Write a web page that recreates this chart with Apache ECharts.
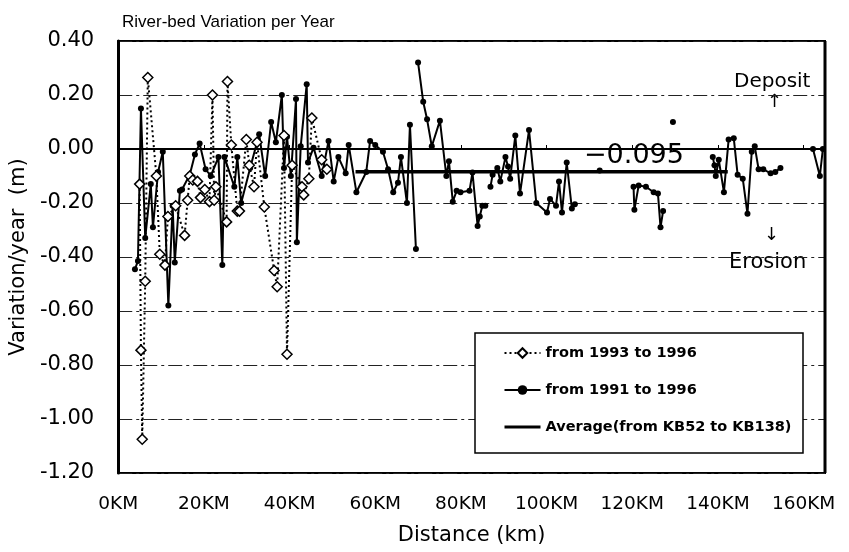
<!DOCTYPE html>
<html style="height: 100%">
<head>
<meta charset="utf-8">
<title>River-bed Variation per Year</title>
<script src="https://cdn.jsdelivr.net/npm/echarts/dist/echarts.min.js"></script>
</head>
<body style="height: 100%; margin: 0; background: #fff">
<div id="container" style="width: 849px; height: 552px"></div>
<script type="text/javascript">

// distance (km), variation per year (m)
let series93 = [
    [5.0, -0.13], [5.3, -0.745], [5.6, -1.075], [6.3, -0.49], [6.9, 0.265], [8.9, -0.10],
    [9.7, -0.39], [10.9, -0.43], [11.6, -0.25], [13.4, -0.21], [15.5, -0.32], [16.2, -0.19],
    [16.7, -0.10], [17.4, -0.115], [18.5, -0.12], [19.2, -0.18], [20.2, -0.15], [21.3, -0.195],
    [22.0, 0.20], [22.4, -0.19], [22.8, -0.14], [25.3, -0.27], [25.5, 0.25], [26.4, 0.015],
    [27.8, -0.23], [28.3, -0.23], [29.9, 0.035], [30.6, -0.06], [31.7, -0.14], [32.4, 0.025],
    [34.1, -0.215], [36.4, -0.45], [37.1, -0.51], [38.7, 0.05], [39.4, -0.76], [40.6, -0.06],
    [42.9, -0.14], [43.3, -0.17], [44.5, -0.11], [45.2, 0.115], [47.5, -0.04], [48.7, -0.075]
]

// null = break in the line
let series91 = [
    [3.9, -0.445], [4.6, -0.415], [5.3, 0.15], [6.3, -0.33], [7.6, -0.13], [8.1, -0.29],
    [9.3, -0.085], [10.4, -0.01], [11.7, -0.58], [12.7, -0.21], [13.2, -0.42], [14.4, -0.155],
    [14.9, -0.15], [16.7, -0.095], [17.9, -0.02], [19.0, 0.02], [20.4, -0.075], [21.6, -0.10],
    [23.4, -0.03], [24.3, -0.43], [24.8, -0.03], [27.1, -0.14], [27.8, -0.03], [28.7, -0.20],
    [30.8, -0.07], [32.9, 0.055], [34.3, -0.10], [35.7, 0.10], [36.8, 0.025], [38.2, 0.20],
    [38.7, -0.07], [39.4, 0.045], [40.3, -0.10], [41.5, 0.185], [41.7, -0.345], [42.6, 0.01],
    [44.0, 0.24], [44.3, -0.05], [45.6, 0.005], [47.5, -0.10], [49.1, 0.03], [50.3, -0.12],
    [51.4, -0.03], [53.1, -0.09], [53.8, 0.015], [55.6, -0.16], [57.9, -0.085], [58.8, 0.03],
    [60.0, 0.015], [61.8, -0.01], [63.0, -0.075], [64.2, -0.16], [65.3, -0.125], [66.0, -0.03],
    [67.4, -0.20], [68.1, 0.09], [69.5, -0.37], [69.8, null], [70.0, 0.32], [71.2, 0.175],
    [72.1, 0.11], [73.2, 0.01], [75.1, 0.105], [76.6, -0.10], [77.2, -0.045], [78.1, -0.195],
    [79.0, -0.155], [79.9, -0.16], [82.0, -0.155], [82.7, -0.087], [83.9, -0.285], [84.4, -0.25],
    [85.0, -0.21], [85.7, -0.21], [86.3, null], [86.9, -0.14], [87.4, -0.095], [88.5, -0.07],
    [89.2, -0.12], [90.4, -0.03], [91.0, -0.065], [91.5, -0.11], [92.7, 0.05], [93.8, -0.165],
    [95.9, 0.07], [97.6, -0.20], [100.1, -0.235], [100.8, -0.185], [102.2, -0.21], [102.9, -0.12],
    [103.6, -0.235], [104.7, -0.05], [105.9, -0.22], [106.6, -0.205], [109, null], [112.4, -0.08],
    [116, null], [120.3, -0.14], [120.5, -0.225], [121.5, -0.135], [123.2, -0.14], [125.0, -0.16],
    [126.0, -0.165], [126.6, -0.29], [127.2, -0.23], [128.3, null], [129.5, 0.10], [134, null],
    [138.8, -0.03], [139.2, -0.06], [139.5, -0.10], [140.2, -0.04], [141.4, -0.16], [142.5, 0.035],
    [143.7, 0.04], [144.6, -0.095], [145.8, -0.11], [146.9, -0.24], [147.9, -0.01], [148.6, 0.01],
    [149.5, -0.075], [150.6, -0.075], [152.3, -0.09], [153.4, -0.085], [154.6, -0.07], [158, null],
    [162.2, 0.0], [163.8, -0.10], [164.5, 0.0]
]

// average from KB52 to KB138
let avgLine = [[55.4, -0.084], [142.3, -0.084]]

let legendNames = ['from 1993 to 1996', 'from 1991 to 1996', 'Average(from KB52 to KB138)']
let font = 'DejaVu Sans'

let dom = document.getElementById('container')
let chart = echarts.init(dom)

chart.setOption({
    backgroundColor: '#fff',
    animation: false,
    textStyle: {fontFamily: font, color: '#000'},
    title: {
        text: 'River-bed Variation per Year',
        left: 117, top: 9,
        textStyle: {fontFamily: 'Liberation Sans', fontSize: 17, fontWeight: 'normal', color: '#000'}
    },
    grid: {left: 113, right: 24, top: 41, bottom: 79, show: true, borderColor: '#000', borderWidth: 2},
    legend: {
        orient: 'vertical', left: 475, top: 333,
        data: [
            {name: legendNames[0]},
            {name: legendNames[1]},
            {name: legendNames[2], itemStyle: {opacity: 0}, lineStyle: {width: 3}}
        ],
        itemWidth: 36, itemHeight: 12, itemGap: 17,
        padding: [10, 10, 17, 28],
        borderWidth: 0,
        textStyle: {fontFamily: font, fontSize: 14.5, fontWeight: 'bold', color: '#000', lineHeight: 20},
        z: 10
    },
    xAxis: {
        type: 'value', min: 0, max: 165, interval: 20,
        name: 'Distance (km)', nameLocation: 'middle', nameGap: 52,
        nameTextStyle: {fontFamily: font, fontSize: 21, color: '#000'},
        axisLine: {lineStyle: {color: '#000', width: 2}},
        axisTick: {inside: true, length: 4, lineStyle: {color: '#000'}},
        axisLabel: {
            margin: 22, fontFamily: font, fontSize: 18.5, color: '#000',
            formatter: function (v) { return v % 20 === 0 ? v + 'KM' : '' }
        },
        splitLine: {show: false}
    },
    yAxis: {
        type: 'value', min: -1.2, max: 0.4, interval: 0.2,
        name: 'Variation/year  (m)', nameLocation: 'middle', nameGap: 77, nameRotate: 90,
        nameTextStyle: {fontFamily: font, fontSize: 21, color: '#000'},
        axisLine: {lineStyle: {color: '#000', width: 3}},
        axisTick: {show: false},
        axisLabel: {
            margin: 24, fontFamily: font, fontSize: 21, color: '#000',
            formatter: function (v) { return v.toFixed(2) }
        },
        splitLine: {lineStyle: {color: '#222', width: 1, type: [14, 4, 3, 4]}}
    },
    graphic: [
        // legend frame
        {type: 'rect', z: 5, shape: {x: 475, y: 333, width: 328, height: 120},
            style: {fill: '#fff', stroke: '#000', lineWidth: 1.5}},
        // right frame a bit heavier, as in the scan
        {type: 'line', z: 5, shape: {x1: 825, y1: 41, x2: 825, y2: 473},
            style: {stroke: '#000', lineWidth: 3}},
        {type: 'text', left: 734, top: 72, style: {text: 'Deposit', font: '20px "DejaVu Sans"', fill: '#000'}},
        {type: 'text', left: 767, top: 93, style: {text: '↑', font: '18px "DejaVu Sans"', fill: '#000'}},
        {type: 'text', left: 764, top: 226, style: {text: '↓', font: '18px "DejaVu Sans"', fill: '#000'}},
        {type: 'text', left: 729, top: 252, style: {text: 'Erosion', font: '21px "DejaVu Sans"', fill: '#000'}},
        {type: 'text', left: 584, top: 142, style: {text: '\u22120.095', font: '27px "DejaVu Sans"', fill: '#000'}}
    ],
    series: [
        {
            name: legendNames[0], type: 'line', data: series93,
            symbol: 'diamond', symbolSize: 10, showAllSymbol: true,
            itemStyle: {color: '#fff', borderColor: '#000', borderWidth: 1.5},
            lineStyle: {color: '#000', width: 2, type: [2, 3]},
            z: 3
        },
        {
            name: legendNames[1], type: 'line', data: series91,
            symbol: 'circle', symbolSize: 6, showAllSymbol: true,
            itemStyle: {color: '#000'},
            lineStyle: {color: '#000', width: 2},
            z: 2
        },
        {
            name: legendNames[2], type: 'line', data: avgLine,
            symbol: 'none',
            itemStyle: {color: '#000'},
            lineStyle: {color: '#000', width: 3.5},
            z: 2
        }
    ]
})

</script>
</body>
</html>
